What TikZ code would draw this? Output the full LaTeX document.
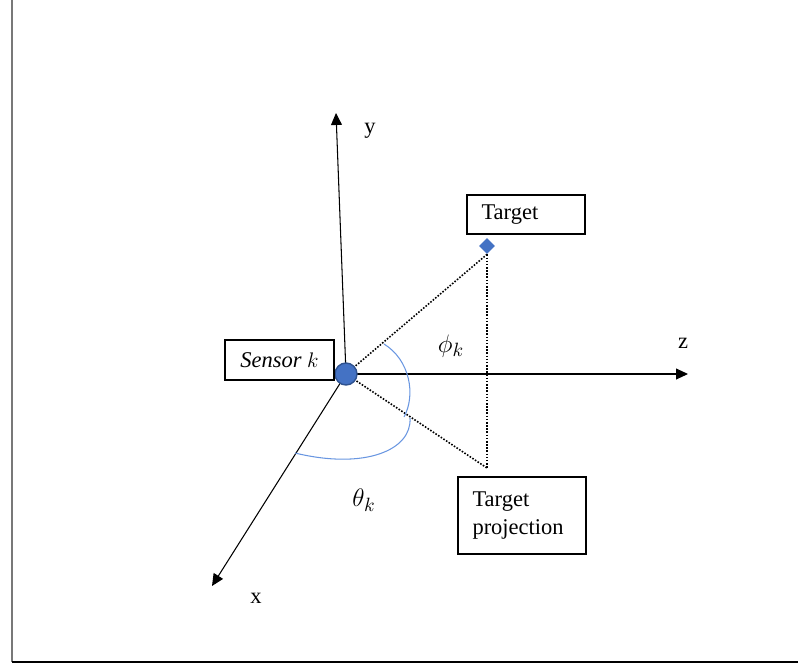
\documentclass[tikz,border=0pt]{standalone}
\usepackage{fontspec}
\setmainfont{Liberation Serif}
\usetikzlibrary{positioning,arrows.meta,shapes.geometric}
\definecolor{sensorblue}{RGB}{68,114,196}
\definecolor{sensoredge}{RGB}{47,82,143}
\definecolor{arcblue}{RGB}{105,150,225}
\definecolor{framegray}{RGB}{120,120,120}

\begin{document}
\begin{tikzpicture}[x=0.02cm, y=-0.02cm, font=\fontsize{12.8}{15.4}\selectfont,
    box/.style={draw, line width=0.6pt, inner xsep=0.29cm, inner ysep=0pt},
    axis/.style={line width=0.6pt, -{Triangle[length=6.8pt,width=6.2pt]}},
    dots/.style={line width=0.9pt, dash pattern=on 0.9pt off 0.9pt},
    arcline/.style={draw=arcblue, line width=0.6pt},
    angle/.style={font=\fontsize{15}{18}\selectfont}]
  \useasboundingbox (0,0) rectangle (798,666);
  % frame
  \draw[framegray, line width=1pt] (12,0) -- (12,662);
  \draw[line width=1pt] (12,662) -- (798,662);

  \coordinate (o) at (346,374);
  \coordinate (ytip) at (336,113);
  \coordinate (ztip) at (688,374);
  \coordinate (xtip) at (212,586);
  \coordinate (ptip) at (487,468);
  \node[diamond, fill=sensorblue, minimum size=0.32cm, inner sep=0pt] (tdot) at (487,246) {};

  % axes
  \draw[axis] (o) -- (ytip);
  \draw[axis] (o) -- (ztip);
  \draw[axis] (o) -- (xtip);
  % sight lines
  \draw[dots] (o) -- (tdot.south);
  \draw[dots] (o) -- (ptip);
  \draw[dots] (tdot.south) -- (ptip);
  % angles
  \draw[arcline] (384,344) .. controls (410,360) and (416,395) .. (404,417);
  \draw[arcline] (410,418) .. controls (412,450) and (365,470) .. (295,453);

  \node[circle, fill=sensorblue, draw=sensoredge, line width=0.8pt, minimum size=0.44cm, inner sep=0pt] (sensor) at (o) {};

  \node[box, minimum width=2.18cm, minimum height=0.8cm, inner xsep=0pt] (sensorbox) at (279.5,360) {\textit{Sensor} $k$};
  \node[box, text width=1.78cm, minimum height=0.78cm, align=left] (targetbox) at (526,214.5) {Target};
  \node[box, text width=1.98cm, minimum height=1.54cm, align=left] (projbox) at (522,515.5) {Target\\projection};

  \node (ylbl) at (370,131) {y};
  \node (zlbl) at (683,343) {z};
  \node (xlbl) at (256,598) {x};
  \node[angle] (philbl) at (451,346) {$\phi_k$};
  \node[angle] (thetalbl) at (364,500) {$\theta_k$};
\end{tikzpicture}
\end{document}
